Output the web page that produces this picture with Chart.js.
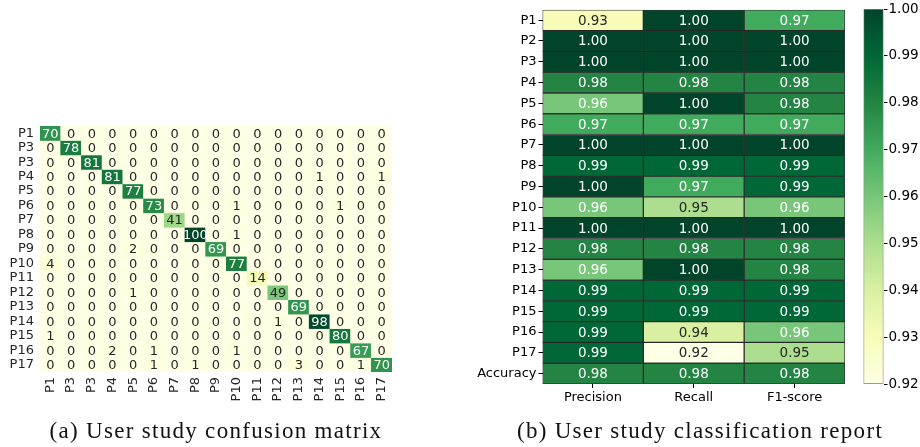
<!DOCTYPE html>
<html>
<head>
<meta charset="utf-8">
<script src="https://cdn.jsdelivr.net/npm/chart.js@4.4.1/dist/chart.umd.min.js"></script>
<style>
  body { margin: 0; background: #fff; width: 920px; height: 447px; position: relative; overflow: hidden; }
  canvas { position: absolute; top: 0; }
  .cap { position: absolute; top: 418px; font-family: "Liberation Serif", serif; font-size: 23px; letter-spacing: 1.3px; color: #111; white-space: nowrap; transform: translateX(-50%); }
</style>
</head>
<body>
<canvas id="cm" width="460" height="420" style="left:0"></canvas>
<canvas id="rep" width="400" height="420" style="left:460px"></canvas>
<canvas id="cbar" width="70" height="420" style="left:850px"></canvas>
<div class="cap" style="left:216px">(a) User study confusion matrix</div>
<div class="cap" style="left:700px">(b) User study classification report</div>
<script>
// confusion matrix (rows = true, cols = predicted)
const cmLabels = ['P1','P3','P3','P4','P5','P6','P7','P8','P9','P10','P11','P12','P13','P14','P15','P16','P17'];
const cmValues = [
  [70,0,0,0,0,0,0,0,0,0,0,0,0,0,0,0,0],
  [0,78,0,0,0,0,0,0,0,0,0,0,0,0,0,0,0],
  [0,0,81,0,0,0,0,0,0,0,0,0,0,0,0,0,0],
  [0,0,0,81,0,0,0,0,0,0,0,0,0,1,0,0,1],
  [0,0,0,0,77,0,0,0,0,0,0,0,0,0,0,0,0],
  [0,0,0,0,0,73,0,0,0,1,0,0,0,0,1,0,0],
  [0,0,0,0,0,0,41,0,0,0,0,0,0,0,0,0,0],
  [0,0,0,0,0,0,0,100,0,1,0,0,0,0,0,0,0],
  [0,0,0,0,2,0,0,0,69,0,0,0,0,0,0,0,0],
  [4,0,0,0,0,0,0,0,0,77,0,0,0,0,0,0,0],
  [0,0,0,0,0,0,0,0,0,0,14,0,0,0,0,0,0],
  [0,0,0,0,1,0,0,0,0,0,0,49,0,0,0,0,0],
  [0,0,0,0,0,0,0,0,0,0,0,0,69,0,0,0,0],
  [0,0,0,0,0,0,0,0,0,0,0,1,0,98,0,0,0],
  [1,0,0,0,0,0,0,0,0,0,0,0,0,0,80,0,0],
  [0,0,0,2,0,1,0,0,0,1,0,0,0,0,0,67,0],
  [0,0,0,0,0,1,0,1,0,0,0,0,3,0,0,1,70]
];

// classification report
const repRows = ['P1','P2','P3','P4','P5','P6','P7','P8','P9','P10','P11','P12','P13','P14','P15','P16','P17','Accuracy'];
const repCols = ['Precision','Recall','F1-score'];
const precision = [0.93,1.00,1.00,0.98,0.96,0.97,1.00,0.99,1.00,0.96,1.00,0.98,0.96,0.99,0.99,0.99,0.99,0.98];
const recall    = [1.00,1.00,1.00,0.98,1.00,0.97,1.00,0.99,0.97,0.95,1.00,0.98,1.00,0.99,0.99,0.94,0.92,0.98];
const f1score   = [0.97,1.00,1.00,0.98,0.98,0.97,1.00,0.99,0.99,0.96,1.00,0.98,0.98,0.99,0.99,0.96,0.95,0.98];
const cbarTicks = [0.92,0.93,0.94,0.95,0.96,0.97,0.98,0.99,1.00];

const YLGN = ['#ffffe5','#f7fcb9','#d9f0a3','#addd8e','#78c679','#41ab5d','#238443','#006837','#004529'];
function hexRgb(h) { return [1,3,5].map(i => parseInt(h.substr(i, 2), 16)); }
function ylgn(t) {
  t = Math.max(0, Math.min(1, t));
  const p = t * 8, i = Math.min(7, Math.floor(p)), f = p - i;
  const a = hexRgb(YLGN[i]), b = hexRgb(YLGN[i + 1]);
  const c = a.map((v, k) => Math.round(v + (b[k] - v) * f));
  return 'rgb(' + c.join(',') + ')';
}
const textFor = t => t > 0.495 ? '#ffffff' : '#262626';

Chart.defaults.font.family = 'DejaVu Sans';
Chart.defaults.font.size = 13;
Chart.defaults.color = '#262626';

// writes the number in the middle of each cell
const cellText = {
  id: 'cellText',
  afterDatasetsDraw(chart, args, opts) {
    const ctx = chart.ctx;
    ctx.save();
    ctx.font = opts.font;
    ctx.textAlign = 'center';
    ctx.textBaseline = 'middle';
    chart.data.datasets.forEach((ds, i) => {
      chart.getDatasetMeta(i).data.forEach((el, j) => {
        const v = ds.values[j];
        ctx.fillStyle = textFor(opts.norm(v));
        ctx.fillText(opts.format(v), el.x, (el.y + el.base) / 2 + 1);
      });
    });
    ctx.restore();
  }
};

function rowTicks(labels) {
  return s => { s.ticks = labels.map((_, i) => ({ value: i + 0.5 })); };
}

// ---- (a) confusion matrix ----
const cmMax = 100;
new Chart(document.getElementById('cm'), {
  type: 'bar',
  data: {
    labels: cmLabels,
    datasets: cmValues.map((row, i) => ({
      data: row.map(() => [i, i + 1]),
      values: row,
      backgroundColor: row.map(v => ylgn(v / cmMax)),
      borderWidth: 0,
      grouped: false,
      barPercentage: 1,
      categoryPercentage: 1
    }))
  },
  options: {
    responsive: false,
    devicePixelRatio: 1,
    animation: false,
    layout: { padding: { left: 0, top: 126, right: 68, bottom: 0 } },
    plugins: {
      legend: { display: false },
      tooltip: { enabled: false },
      cellText: { font: '13px "DejaVu Sans"', norm: v => v / cmMax, format: v => String(v) }
    },
    scales: {
      x: {
        grid: { display: false, drawTicks: false },
        border: { display: false },
        ticks: { minRotation: 90, maxRotation: 90, padding: 5, color: '#262626' },
        afterFit: s => { s.height = 48; }
      },
      y: {
        type: 'linear', min: 0, max: cmLabels.length, reverse: true,
        grid: { display: false, drawTicks: false },
        border: { display: false },
        afterBuildTicks: rowTicks(cmLabels),
        ticks: { padding: 6, autoSkip: false, callback: v => cmLabels[Math.floor(v)] },
        afterFit: s => { s.width = 40; }
      }
    }
  },
  plugins: [cellText]
});

// ---- (b) classification report ----
const repMin = 0.92, repMax = 1.00;
const repNorm = v => (v - repMin) / (repMax - repMin);
new Chart(document.getElementById('rep'), {
  type: 'bar',
  data: {
    labels: repCols,
    datasets: repRows.map((r, i) => {
      const vals = [precision[i], recall[i], f1score[i]];
      return {
        data: vals.map(() => [i, i + 1]),
        values: vals,
        backgroundColor: vals.map(v => ylgn(repNorm(v))),
        borderColor: 'rgba(20,20,20,0.85)',
        borderWidth: 1,
        borderSkipped: false,
        grouped: false,
        barPercentage: 1,
        categoryPercentage: 1
      };
    })
  },
  options: {
    responsive: false,
    devicePixelRatio: 1,
    animation: false,
    layout: { padding: { left: 0, top: 7.3, right: 15, bottom: 0 } },
    plugins: {
      legend: { display: false },
      tooltip: { enabled: false },
      cellText: { font: '13.5px "DejaVu Sans"', norm: repNorm, format: v => v.toFixed(2) }
    },
    scales: {
      x: {
        grid: { offset: false, drawOnChartArea: false, drawTicks: true, tickLength: 4, color: '#000' },
        border: { display: false },
        ticks: { padding: 2, color: '#000' },
        afterFit: s => { s.height = 36; }
      },
      y: {
        type: 'linear', min: 0, max: repRows.length, reverse: true,
        grid: { drawOnChartArea: false, drawTicks: true, tickLength: 4, color: '#000' },
        border: { display: false },
        afterBuildTicks: rowTicks(repRows),
        ticks: { padding: 2, autoSkip: false, color: '#000', callback: v => repRows[Math.floor(v)] },
        afterFit: s => { s.width = 82.5; }
      }
    }
  },
  plugins: [cellText]
});

// ---- colour bar ----
new Chart(document.getElementById('cbar'), {
  type: 'bar',
  data: {
    labels: [''],
    datasets: [{
      data: [[repMin, repMax]],
      backgroundColor: c => {
        const a = c.chart.chartArea;
        if (!a) return YLGN[4];
        const y = c.chart.scales.y;
        const g = c.chart.ctx.createLinearGradient(0, y.getPixelForValue(repMin), 0, y.getPixelForValue(repMax));
        for (let k = 0; k <= 40; k++) g.addColorStop(k / 40, ylgn(k / 40));
        return g;
      },
      borderColor: '#7a7a7a',
      borderWidth: 1,
      borderSkipped: false,
      barPercentage: 1,
      categoryPercentage: 1
    }]
  },
  options: {
    responsive: false,
    devicePixelRatio: 1,
    animation: false,
    layout: { padding: { left: 13.5, top: 7.3, right: 0, bottom: 36 } },
    plugins: { legend: { display: false }, tooltip: { enabled: false } },
    scales: {
      x: { display: false },
      y: {
        position: 'right', min: repMin, max: repMax,
        grid: { drawOnChartArea: false, drawTicks: true, tickLength: 4, color: '#000' },
        border: { display: false },
        afterBuildTicks: s => { s.ticks = cbarTicks.map(v => ({ value: v })); },
        ticks: { padding: 1, color: '#000', font: { size: 13.5 }, callback: v => v.toFixed(2) },
        afterFit: s => { s.width = 36.5; }
      }
    }
  }
});
</script>
</body>
</html>
